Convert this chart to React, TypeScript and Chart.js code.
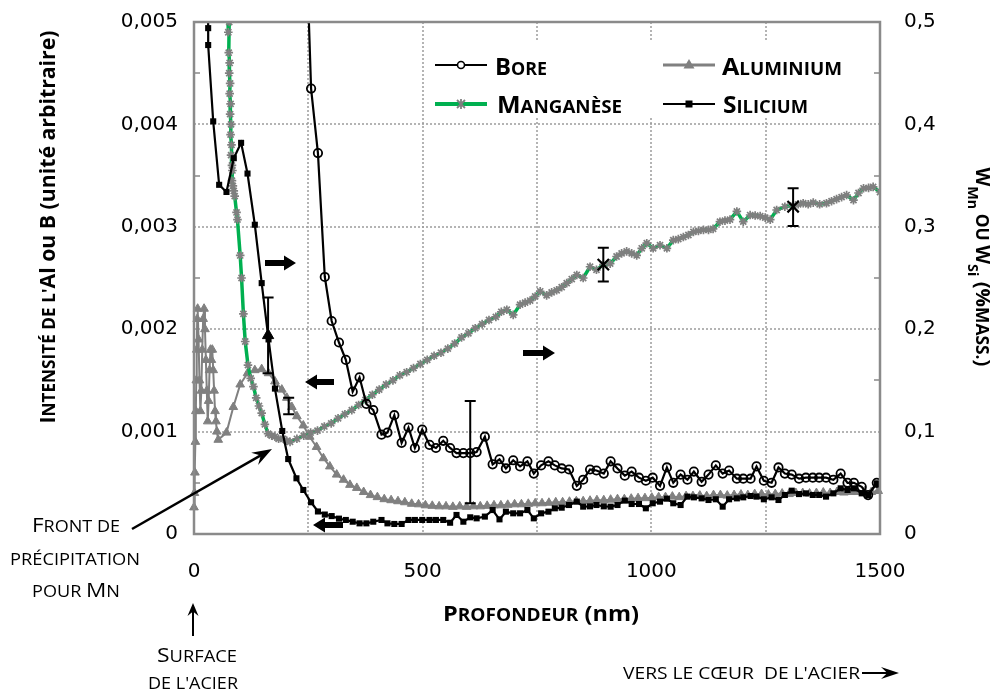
import React, { useEffect, useRef } from 'react';
import { Chart, registerables } from 'chart.js';

Chart.register(...registerables);

// ---------- DATA ----------
// Bore (left axis, intensité)
const boreDepth = [241, 256, 271, 286, 301, 317, 332, 347, 362, 377, 392,
  410, 423, 438, 454, 469, 483, 499, 515, 529, 545, 560, 574, 589, 604, 618, 636, 653, 668, 682, 698,
  713, 729, 743, 759, 775, 789, 804, 820, 837, 851, 866, 880, 896, 911, 926, 942, 957, 973, 988, 1003,
  1019, 1034, 1048, 1064, 1079, 1093, 1110, 1125, 1141, 1156, 1170, 1187, 1201, 1217, 1230, 1246, 1263,
  1278, 1292, 1307, 1323, 1338, 1353, 1367, 1382, 1398, 1414, 1429, 1443, 1460, 1474, 1493];
const boreValues = [0.0064, 0.00435, 0.00372, 0.00251, 0.00208, 0.00187, 0.0017, 0.00139, 0.00153, 0.00127, 0.00121,
  0.00097, 0.00099, 0.00116, 0.00089, 0.00104, 0.00084, 0.00102, 0.00087, 0.00084, 0.00091,
  0.00084, 0.00079, 0.00079, 0.00079, 0.0008, 0.00095, 0.00068, 0.00073, 0.00064, 0.00072,
  0.00066, 0.00071, 0.00059, 0.00067, 0.00071, 0.00067, 0.00064, 0.00063, 0.00047, 0.00053,
  0.00063, 0.00062, 0.00059, 0.00071, 0.00064, 0.00057, 0.00061, 0.00055, 0.00052, 0.00055,
  0.00047, 0.00065, 0.0005, 0.00058, 0.00053, 0.00061, 0.00051, 0.00058, 0.00067, 0.00059,
  0.00062, 0.00054, 0.00054, 0.00054, 0.00066, 0.00052, 0.0005, 0.00065, 0.00059, 0.00058,
  0.00054, 0.00055, 0.00055, 0.00055, 0.00055, 0.00053, 0.00059, 0.0005, 0.0005, 0.00046,
  0.00038, 0.0005];

// Aluminium (left axis)
const alDepth = [0, 1, 2, 3, 4, 5, 6, 7, 8, 10, 12, 14, 16, 18, 20, 22, 24, 26, 28, 30, 32, 34, 36, 38, 40, 42, 44, 46, 48, 50, 53,
  71, 86, 101, 117, 133, 148, 163, 177, 192, 203, 214, 225, 239, 253, 268, 283, 297, 312, 327, 341,
  356, 371, 386, 401, 416, 431, 446, 461, 476, 491,
  506, 521, 536, 551, 566, 581, 596, 611, 626, 641, 656, 671, 686, 701, 716, 731, 746, 761, 776, 791,
  806, 821, 836, 851, 866, 881, 896, 911, 926, 941, 956, 971, 986, 1001, 1016, 1031, 1046, 1061, 1076,
  1091, 1106, 1121, 1136, 1151, 1166, 1181, 1196, 1211, 1226, 1241, 1256, 1271, 1286, 1301, 1316, 1331,
  1346, 1361, 1376, 1391, 1406, 1421, 1436, 1451, 1466, 1481, 1496];
const alValues = [0.00026, 0.0004, 0.0006, 0.0009, 0.0012, 0.0015, 0.0018, 0.0021, 0.0022,
  0.0019, 0.0015, 0.0012, 0.0014, 0.0018, 0.0021, 0.0022, 0.002, 0.0017, 0.0014,
  0.0011, 0.0013, 0.0016, 0.0018, 0.0017, 0.0018, 0.0016, 0.0014, 0.0012, 0.0011, 0.001, 0.00092,
  0.00099, 0.00124, 0.00146, 0.00157, 0.0016, 0.00161, 0.00157, 0.00149, 0.00141, 0.00133,
  0.00124, 0.00115, 0.00106, 0.00095, 0.00085, 0.00074, 0.00066, 0.00058, 0.00053, 0.00048,
  0.00045, 0.00041, 0.00038, 0.00036, 0.00034, 0.00033, 0.00032, 0.00031, 0.000295, 0.00029,
  0.00028, 0.000275, 0.00027, 0.00027, 0.000265, 0.00027, 0.000265, 0.00027, 0.00027, 0.000275,
  0.00028, 0.00028, 0.000285, 0.00029, 0.00029, 0.000295, 0.0003, 0.0003, 0.000305, 0.00031,
  0.00031, 0.000315, 0.00032, 0.00032, 0.000325, 0.00033, 0.00033, 0.000335, 0.00034, 0.00034,
  0.000345, 0.00035, 0.00035, 0.000355, 0.00036, 0.00036, 0.000365, 0.00036, 0.00037, 0.00037,
  0.000375, 0.00037, 0.00038, 0.00038, 0.000375, 0.00038, 0.000385, 0.00038, 0.00039, 0.00039,
  0.000385, 0.00039, 0.000395, 0.00039, 0.0004, 0.0004, 0.000395, 0.0004, 0.000405, 0.0004,
  0.00041, 0.000405, 0.00041, 0.00041, 0.000415, 0.00041, 0.00042];

// Manganèse (right axis, %mass.)
const mnDepth = [70, 72, 74, 75, 77, 76, 78, 77, 79, 78, 80, 79, 81, 80, 82, 81, 83, 84, 83, 85,
  87, 89, 93, 95, 101, 104, 108, 112, 118, 124, 130, 136, 142, 148, 155, 162, 170, 177, 185, 195,
  203, 210, 225, 240, 255, 270, 285, 300, 315, 330, 345, 360, 375, 390, 405, 420, 435, 450, 465, 480,
  495, 510, 525, 540, 555, 570, 585, 600, 615, 630, 645, 660, 672, 684, 698, 713, 724, 735, 746, 757,
  771, 782, 793, 804, 815, 826, 837, 851, 866, 880, 895, 910, 924, 935, 946, 957, 968, 979, 990, 1004,
  1019, 1034, 1048, 1059, 1070, 1081, 1092, 1103, 1114, 1125, 1135, 1150, 1161, 1172, 1187, 1201, 1216, 1227, 1238, 1249,
  1260, 1274, 1292, 1310, 1321, 1332, 1343, 1354, 1368, 1383, 1394, 1405, 1416, 1427, 1442, 1453, 1464, 1475, 1485, 1500];
const mnValues = [0.62, 0.55, 0.51, 0.49, 0.5, 0.47, 0.46, 0.45, 0.44, 0.43, 0.42, 0.41, 0.4, 0.39, 0.38, 0.37, 0.36, 0.355, 0.345, 0.34,
  0.335, 0.33, 0.314, 0.307, 0.272, 0.25, 0.215, 0.188, 0.165, 0.152, 0.144, 0.133, 0.125, 0.118, 0.107, 0.098, 0.096, 0.095, 0.093, 0.093,
  0.091, 0.09, 0.093, 0.096, 0.099, 0.101, 0.105, 0.108, 0.113, 0.117, 0.121, 0.126, 0.131, 0.136, 0.141, 0.146, 0.15, 0.155, 0.158, 0.162,
  0.166, 0.17, 0.174, 0.177, 0.181, 0.186, 0.192, 0.196, 0.201, 0.205, 0.209, 0.212, 0.217, 0.219, 0.214, 0.224, 0.226, 0.228, 0.232, 0.237,
  0.233, 0.236, 0.238, 0.241, 0.245, 0.249, 0.253, 0.25, 0.261, 0.258, 0.263, 0.264, 0.271, 0.274, 0.276, 0.274, 0.272, 0.279, 0.284, 0.279,
  0.282, 0.279, 0.287, 0.288, 0.29, 0.292, 0.295, 0.296, 0.297, 0.297, 0.298, 0.305, 0.306, 0.307, 0.315, 0.305, 0.3115, 0.311, 0.3105, 0.309,
  0.307, 0.3164, 0.3196, 0.321, 0.322, 0.323, 0.322, 0.3236, 0.322, 0.323, 0.325, 0.327, 0.329, 0.331, 0.326, 0.333, 0.3376, 0.338, 0.339, 0.334];

// Silicium (right axis, %mass.)
const siDepth = [30, 31, 31, 42, 55, 71, 87, 103, 117, 133, 148, 163, 177, 193, 206, 224, 239, 256, 271, 286, 301, 317, 332, 347, 362, 377, 392,
  410, 423, 438, 454, 469, 483, 499, 515, 529, 545, 560, 574, 589, 604, 618, 636, 653, 668, 682, 698,
  713, 729, 743, 759, 775, 789, 804, 820, 837, 851, 866, 880, 896, 911, 926, 942, 957, 973, 988, 1003,
  1019, 1034, 1048, 1064, 1079, 1093, 1110, 1125, 1141, 1156, 1170, 1187, 1201, 1217, 1230, 1246, 1263,
  1278, 1292, 1307, 1323, 1338, 1353, 1367, 1382, 1398, 1414, 1429, 1443, 1460, 1474, 1493];
const siValues = [0.56, 0.494, 0.4775, 0.403, 0.341, 0.334, 0.367, 0.382, 0.352, 0.302, 0.245, 0.19, 0.142, 0.1006, 0.0732, 0.0544, 0.043,
  0.031, 0.022, 0.019, 0.0175, 0.015, 0.0137, 0.012, 0.0104, 0.0104, 0.012,
  0.0137, 0.0104, 0.0098, 0.0098, 0.0137, 0.0137, 0.0137, 0.0137, 0.0137, 0.0137,
  0.011, 0.0186, 0.012, 0.0163, 0.0153, 0.017, 0.0234, 0.0143, 0.0218, 0.0202,
  0.0202, 0.0234, 0.0153, 0.0202, 0.0218, 0.0251, 0.0257, 0.0283, 0.0316, 0.0267,
  0.027, 0.0283, 0.027, 0.0267, 0.0283, 0.0326, 0.0293, 0.0293, 0.0251, 0.03,
  0.0316, 0.0345, 0.03, 0.0283, 0.0365, 0.0358, 0.0348, 0.0332, 0.0339, 0.0267,
  0.0339, 0.0348, 0.0358, 0.0371, 0.0365, 0.0339, 0.0358, 0.0332, 0.0381, 0.0423,
  0.039, 0.0397, 0.0381, 0.0381, 0.0365, 0.0397, 0.0446, 0.043, 0.0446, 0.0397,
  0.0381, 0.0495];

// Error bars
const errDepth = [604, 895, 1310, 162, 207];
const errCenter = [0.0008, 0.263, 0.3196, 0.00194, 0.00125];
const errLow = [0.0003, 0.2465, 0.3008, 0.00157, 0.00117];
const errHigh = [0.0013, 0.2795, 0.3376, 0.00231, 0.00133];
const errAxis = ['yL', 'yR', 'yR', 'yL', 'yL'];
const errMarker = ['none', 'cross', 'cross', 'triangle', 'none'];

// Axes
const depthTicksStep = 500;
const depthGrid = [250, 500, 750, 1000, 1250];
const leftGrid = [0.001, 0.002, 0.003, 0.004];
const leftMinor = [0.0005, 0.0015, 0.0025, 0.0035, 0.0045];
const rightMinor = [0.05, 0.15, 0.25, 0.35, 0.45];

// ---------- helpers ----------
const FAM = '"Open Sans", "DejaVu Sans", sans-serif';
type Run = { t: string; s: number; b?: boolean; dy?: number };
const fnt = (r: Run) => `${r.b ? 'bold ' : ''}${r.s}px ${FAM}`;

function sc(text: string, big: number, small: number, b = false): Run[] {
  const runs: Run[] = [];
  for (const ch of text) {
    const isUpper = ch !== ch.toLowerCase();
    const s = isUpper ? big : small;
    const t = ch.toUpperCase();
    const last = runs[runs.length - 1];
    if (last && last.s === s && !last.dy) last.t += t;
    else runs.push({ t, s, b });
  }
  return runs;
}

function drawRuns(ctx: CanvasRenderingContext2D, runs: Run[], x: number, y: number,
  align: 'left' | 'center' | 'right', rot: number, targetW?: number) {
  ctx.save();
  const widths = runs.map((r) => { ctx.font = fnt(r); return ctx.measureText(r.t).width; });
  const W = widths.reduce((a, b) => a + b, 0);
  const sx = targetW ? targetW / W : 1;
  ctx.translate(x, y);
  if (rot) ctx.rotate(rot);
  ctx.scale(sx, 1);
  let cx = align === 'center' ? -W / 2 : align === 'right' ? -W : 0;
  ctx.textBaseline = 'alphabetic';
  ctx.textAlign = 'left';
  ctx.fillStyle = '#000';
  runs.forEach((r, i) => { ctx.font = fnt(r); ctx.fillText(r.t, cx, r.dy || 0); cx += widths[i]; });
  ctx.restore();
}

function blockArrow(ctx: CanvasRenderingContext2D, x1: number, y: number, x2: number) {
  const dir = Math.sign(x2 - x1);
  const head = 12, half = 7.5, th = 3;
  ctx.save();
  ctx.fillStyle = '#000';
  ctx.beginPath();
  ctx.moveTo(x1, y - th);
  ctx.lineTo(x2 - dir * head, y - th);
  ctx.lineTo(x2 - dir * head, y - half);
  ctx.lineTo(x2, y);
  ctx.lineTo(x2 - dir * head, y + half);
  ctx.lineTo(x2 - dir * head, y + th);
  ctx.lineTo(x1, y + th);
  ctx.closePath();
  ctx.fill();
  ctx.restore();
}

function lineArrow(ctx: CanvasRenderingContext2D, x1: number, y1: number, x2: number, y2: number,
  headLen: number, half: number, lw: number) {
  const L = Math.hypot(x2 - x1, y2 - y1);
  const ux = (x2 - x1) / L, uy = (y2 - y1) / L;
  const px = -uy, py = ux;
  ctx.save();
  ctx.strokeStyle = '#000';
  ctx.fillStyle = '#000';
  ctx.lineWidth = lw;
  ctx.beginPath();
  ctx.moveTo(x1, y1);
  ctx.lineTo(x2 - ux * headLen * 0.6, y2 - uy * headLen * 0.6);
  ctx.stroke();
  ctx.beginPath();
  ctx.moveTo(x2, y2);
  ctx.lineTo(x2 - ux * headLen + px * half, y2 - uy * headLen + py * half);
  ctx.lineTo(x2 - ux * headLen * 0.65, y2 - uy * headLen * 0.65);
  ctx.lineTo(x2 - ux * headLen - px * half, y2 - uy * headLen - py * half);
  ctx.closePath();
  ctx.fill();
  ctx.restore();
}

const pts = (xs: number[], ys: number[]) =>
  xs.slice(0, Math.min(xs.length, ys.length)).map((x, i) => ({ x, y: ys[i] }));

const decor = {
  id: 'decor',
  beforeDatasetsDraw(chart: any) {
    const { ctx, chartArea: a, scales } = chart;
    const x = scales.x, yl = scales.yL, yr = scales.yR;
    ctx.save();
    ctx.strokeStyle = '#9c9c9c';
    ctx.lineWidth = 1.5;
    ctx.setLineDash([2, 2]);
    for (const v of depthGrid) {
      const px = Math.round(x.getPixelForValue(v));
      ctx.beginPath(); ctx.moveTo(px, a.top); ctx.lineTo(px, a.bottom); ctx.stroke();
    }
    for (const v of leftGrid) {
      const py = Math.round(yl.getPixelForValue(v));
      ctx.beginPath(); ctx.moveTo(a.left, py); ctx.lineTo(a.right, py); ctx.stroke();
    }
    ctx.setLineDash([]);
    ctx.strokeStyle = '#898989';
    for (const v of leftMinor) {
      const py = Math.round(yl.getPixelForValue(v));
      ctx.beginPath(); ctx.moveTo(a.left, py); ctx.lineTo(a.left + 6, py); ctx.stroke();
    }
    for (const v of rightMinor) {
      const py = Math.round(yr.getPixelForValue(v));
      ctx.beginPath(); ctx.moveTo(a.right - 6, py); ctx.lineTo(a.right, py); ctx.stroke();
    }
    ctx.restore();
  },
  afterDatasetsDraw(chart: any) {
    const { ctx, chartArea: a, scales } = chart;
    const x = scales.x;
    ctx.save();
    // error bars
    ctx.strokeStyle = '#000';
    ctx.lineWidth = 2;
    errDepth.forEach((d, i) => {
      const s = errAxis[i] === 'yR' ? scales.yR : scales.yL;
      const px = x.getPixelForValue(d);
      const t = s.getPixelForValue(errHigh[i]);
      const b = s.getPixelForValue(errLow[i]);
      ctx.beginPath();
      ctx.moveTo(px, t); ctx.lineTo(px, b);
      ctx.moveTo(px - 5.5, t); ctx.lineTo(px + 5.5, t);
      ctx.moveTo(px - 5.5, b); ctx.lineTo(px + 5.5, b);
      ctx.stroke();
    });
    // frame
    ctx.strokeStyle = '#8a8a8a';
    ctx.lineWidth = 2.5;
    ctx.strokeRect(a.left, a.top, a.right - a.left, a.bottom - a.top);
    // legend
    ctx.fillStyle = '#fff';
    ctx.fillRect(430, 42, 440, 76);
    const leg = (xs: number, y: number, color: string, lw: number) => {
      ctx.strokeStyle = color; ctx.lineWidth = lw;
      ctx.beginPath(); ctx.moveTo(xs, y); ctx.lineTo(xs + 52, y); ctx.stroke();
    };
    leg(435, 65, '#000', 2.2);
    ctx.beginPath(); ctx.arc(461, 65, 3.5, 0, Math.PI * 2);
    ctx.fillStyle = '#fff'; ctx.fill(); ctx.lineWidth = 1.6; ctx.strokeStyle = '#000'; ctx.stroke();
    leg(663, 65, '#808080', 3);
    ctx.fillStyle = '#808080';
    ctx.beginPath(); ctx.moveTo(689, 59); ctx.lineTo(694.5, 68.5); ctx.lineTo(683.5, 68.5); ctx.closePath(); ctx.fill();
    leg(435, 104, '#00b050', 4);
    ctx.strokeStyle = '#7f7f7f'; ctx.lineWidth = 1.8;
    ctx.beginPath();
    ctx.moveTo(457, 100); ctx.lineTo(465, 108); ctx.moveTo(465, 100); ctx.lineTo(457, 108);
    ctx.moveTo(461, 99); ctx.lineTo(461, 109);
    ctx.stroke();
    leg(663, 104, '#000', 2.2);
    ctx.fillStyle = '#000'; ctx.fillRect(685.5, 100.5, 7, 7);
    drawRuns(ctx, sc('Bore', 24, 18, true), 495, 75, 'left', 0, 52);
    drawRuns(ctx, sc('Aluminium', 24, 18, true), 722, 75, 'left', 0, 120);
    drawRuns(ctx, sc('Manganèse', 24, 18, true), 497, 113, 'left', 0, 125);
    drawRuns(ctx, sc('Silicium', 24, 18, true), 723, 113, 'left', 0, 85);
    // block arrows
    blockArrow(ctx, 265, 263, 296);
    blockArrow(ctx, 334, 382, 305);
    blockArrow(ctx, 523, 353, 555);
    blockArrow(ctx, 343, 525, 313);
    ctx.restore();
  },
  afterDraw(chart: any) {
    const { ctx } = chart;
    ctx.save();
    // left axis title
    drawRuns(ctx, [...sc("Intensité de l'", 21, 17, true), { t: 'Al ou B (unité arbitraire)', s: 21, b: true }],
      55, 227, 'center', -Math.PI / 2, 393);
    // right axis title
    drawRuns(ctx, [
      { t: 'W', s: 19, b: true },
      { t: 'Mn', s: 14, b: true, dy: 8 },
      { t: ' OU ', s: 17, b: true },
      { t: 'W', s: 19, b: true },
      { t: 'Si', s: 14, b: true, dy: 8 },
      { t: ' (%', s: 20, b: true },
      { t: 'MASS.', s: 17, b: true },
      { t: ')', s: 20, b: true },
    ], 976, 267, 'center', Math.PI / 2, 199);
    // x axis title
    drawRuns(ctx, [...sc('Profondeur', 21, 17, true), { t: ' (nm)', s: 21, b: true }], 541, 621, 'center', 0, 196);
    // front de précipitation
    drawRuns(ctx, sc('Front de', 20, 16), 76, 532, 'center', 0, 88);
    drawRuns(ctx, sc('précipitation', 20, 16), 75, 565, 'center', 0, 130);
    drawRuns(ctx, sc('pour Mn', 20, 16), 76, 597, 'center', 0, 88);
    lineArrow(ctx, 132, 529, 272, 449, 20, 7, 2.5);
    // surface
    lineArrow(ctx, 193, 636, 193, 603, 13, 5.5, 2);
    drawRuns(ctx, sc('Surface', 20, 16), 197, 662, 'center', 0, 80);
    drawRuns(ctx, sc("de l'acier", 20, 16), 193, 689, 'center', 0, 90);
    // vers le coeur
    drawRuns(ctx, sc("vers le cœur  de l'acier", 20, 16), 623, 679, 'left', 0, 237);
    lineArrow(ctx, 862, 673, 899, 673, 18, 6, 2);
    ctx.restore();
  },
};

export default function App() {
  const ref = useRef<HTMLCanvasElement | null>(null);
  useEffect(() => {
    if (!ref.current) return;
    const tickFont = { family: '"DejaVu Sans", sans-serif', size: 20 };
    const chart = new Chart(ref.current, {
      type: 'line',
      data: {
        datasets: [
          {
            label: 'errCross',
            data: errDepth.map((d, i) => ({ x: d, y: errCenter[i], m: errMarker[i] }))
              .filter((p) => p.m === 'cross').map((p) => ({ x: p.x, y: p.y })),
            yAxisID: 'yR', showLine: false, pointStyle: 'crossRot', pointRadius: 8,
            borderColor: '#000', backgroundColor: '#000', pointBorderWidth: 2.2,
          } as any,
          {
            label: 'errTri',
            data: errDepth.map((d, i) => ({ x: d, y: errCenter[i], m: errMarker[i] }))
              .filter((p) => p.m === 'triangle').map((p) => ({ x: p.x, y: p.y })),
            yAxisID: 'yL', showLine: false, pointStyle: 'triangle', pointRadius: 6.5,
            borderColor: '#000', backgroundColor: '#000',
          } as any,
          {
            label: 'Bore',
            data: pts(boreDepth, boreValues),
            yAxisID: 'yL', borderColor: '#000', borderWidth: 2.2,
            pointStyle: 'circle', pointRadius: 4.2, pointBorderWidth: 1.8,
            pointBorderColor: '#000', pointBackgroundColor: 'rgba(0,0,0,0)',
          } as any,
          {
            label: 'Silicium',
            data: pts(siDepth, siValues),
            yAxisID: 'yR', borderColor: '#000', borderWidth: 2.2,
            pointStyle: 'rect', pointRadius: 4.3, pointBorderWidth: 0,
            pointBackgroundColor: '#000',
          } as any,
          {
            label: 'Manganèse',
            data: pts(mnDepth, mnValues),
            yAxisID: 'yR', borderColor: '#00b050', borderWidth: 3.5,
            pointStyle: 'star', pointRadius: 4.3, pointBorderWidth: 1.7,
            pointBorderColor: '#7f7f7f', pointBackgroundColor: '#7f7f7f',
          } as any,
          {
            label: 'Aluminium',
            data: pts(alDepth, alValues),
            yAxisID: 'yL', borderColor: '#808080', borderWidth: 2,
            pointStyle: 'triangle', pointRadius: 5, pointBorderWidth: 1,
            pointBorderColor: '#808080', pointBackgroundColor: '#808080', clip: false,
          } as any,
        ],
      },
      options: {
        animation: false,
        responsive: false,
        devicePixelRatio: 1,
        events: [],
        layout: { padding: { top: 22, left: 0, right: 0, bottom: 0 } },
        plugins: { legend: { display: false }, tooltip: { enabled: false }, title: { display: false } },
        scales: {
          x: {
            type: 'linear', min: 0, max: 1500,
            ticks: {
              stepSize: depthTicksStep, font: tickFont, color: '#000', padding: 26, maxRotation: 0,
              callback: (v: any) => String(v),
            },
            grid: { display: false, drawTicks: false },
            border: { display: false },
            afterFit: (s: any) => { s.height = 158; s.paddingLeft = 0; s.paddingRight = 0; },
          },
          yL: {
            type: 'linear', position: 'left', min: 0, max: 0.005,
            ticks: {
              stepSize: 0.001, font: tickFont, color: '#000', padding: 16,
              callback: (v: any) => (Number(v) === 0 ? '0' : Number(v).toFixed(3).replace('.', ',')),
            },
            grid: { display: false, drawTicks: false },
            border: { display: false },
            afterFit: (s: any) => { s.width = 194; s.paddingTop = 0; s.paddingBottom = 0; },
          },
          yR: {
            type: 'linear', position: 'right', min: 0, max: 0.5,
            ticks: {
              stepSize: 0.1, font: tickFont, color: '#000', padding: 24,
              callback: (v: any) => (Number(v) === 0 ? '0' : Number(v).toFixed(1).replace('.', ',')),
            },
            grid: { display: false, drawTicks: false },
            border: { display: false },
            afterFit: (s: any) => { s.width = 111; s.paddingTop = 0; s.paddingBottom = 0; },
          },
        },
      } as any,
      plugins: [decor],
    });
    return () => chart.destroy();
  }, []);
  return (
    <div style={{ position: 'absolute', left: 0, top: 0, width: 991, height: 692, background: '#fff' }}>
      <canvas ref={ref} width={991} height={692} style={{ display: 'block', width: 991, height: 692 }} />
    </div>
  );
}
